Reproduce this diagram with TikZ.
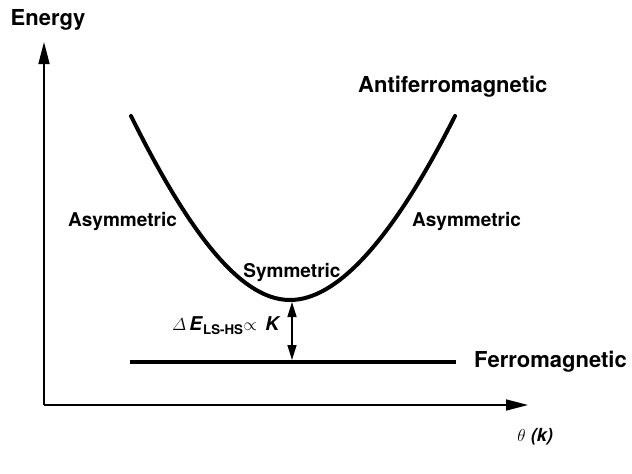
\documentclass[tikz,border=0pt]{standalone}
\usepackage{fontspec}
\setmainfont{TeX Gyre Heros}
\usetikzlibrary{arrows.meta}
\begin{document}
\begin{tikzpicture}[x=1pt,y=-1pt,
  lbl/.style={font=\fontsize{19}{22}\selectfont\bfseries, inner sep=0pt},
  biglbl/.style={font=\fontsize{22}{26}\selectfont\bfseries, inner sep=0pt},
  axis/.style={line width=1.6pt, -{Triangle[length=22pt,width=11pt]}},
  curvestyle/.style={line width=4pt, line cap=round},
  dbl/.style={line width=1.6pt, {Triangle[length=15pt,width=9pt]}-{Triangle[length=15pt,width=9pt]}}]
\useasboundingbox (0,0) rectangle (632,474);
\coordinate (O) at (44,405);
\coordinate (ytop) at (44,42);
\coordinate (xend) at (528,405);
\draw[axis] (O) -- (ytop);
\draw[axis] (O) -- (xend);
\node[biglbl, anchor=center] (energy) at (48,20) {Energy};
\node[inner sep=0pt, anchor=east] (theta) at (553,437) {\fontsize{18}{21}\selectfont$\theta$ \textbf{\textit{(k)}}};
% curve
\coordinate (L) at (131,116);
\coordinate (M) at (290,300);
\coordinate (R) at (455,116);
\draw[curvestyle] (L) .. controls (195,245) and (245,300) .. (M)
                      .. controls (335,300) and (390,245) .. (R);
% ferromagnetic line
\coordinate (F1) at (130,362);
\coordinate (F2) at (456,362);
\draw[line width=4pt] (F1) -- (F2);
\coordinate (a1) at (292,302);
\coordinate (a2) at (292,360);
\draw[dbl] (a1) -- (a2);
\node[biglbl, anchor=west] (af) at (358,87) {Antiferromagnetic};
\node[biglbl, anchor=west] (fm) at (474,362) {Ferromagnetic};
\node[lbl, anchor=west] (asl) at (68,221) {Asymmetric};
\node[lbl, anchor=west] (asr) at (412,221) {Asymmetric};
\node[lbl, anchor=center] (sym) at (292,272) {Symmetric};
\node[inner sep=0pt, anchor=west] (de) at (172,326) {\fontsize{19}{22}\selectfont$\mathnormal{\Delta}$\,\textbf{\textit{E}}\textsubscript{\textbf{LS-HS}}$\propto$\, \textbf{\textit{K}}};
\end{tikzpicture}
\end{document}
